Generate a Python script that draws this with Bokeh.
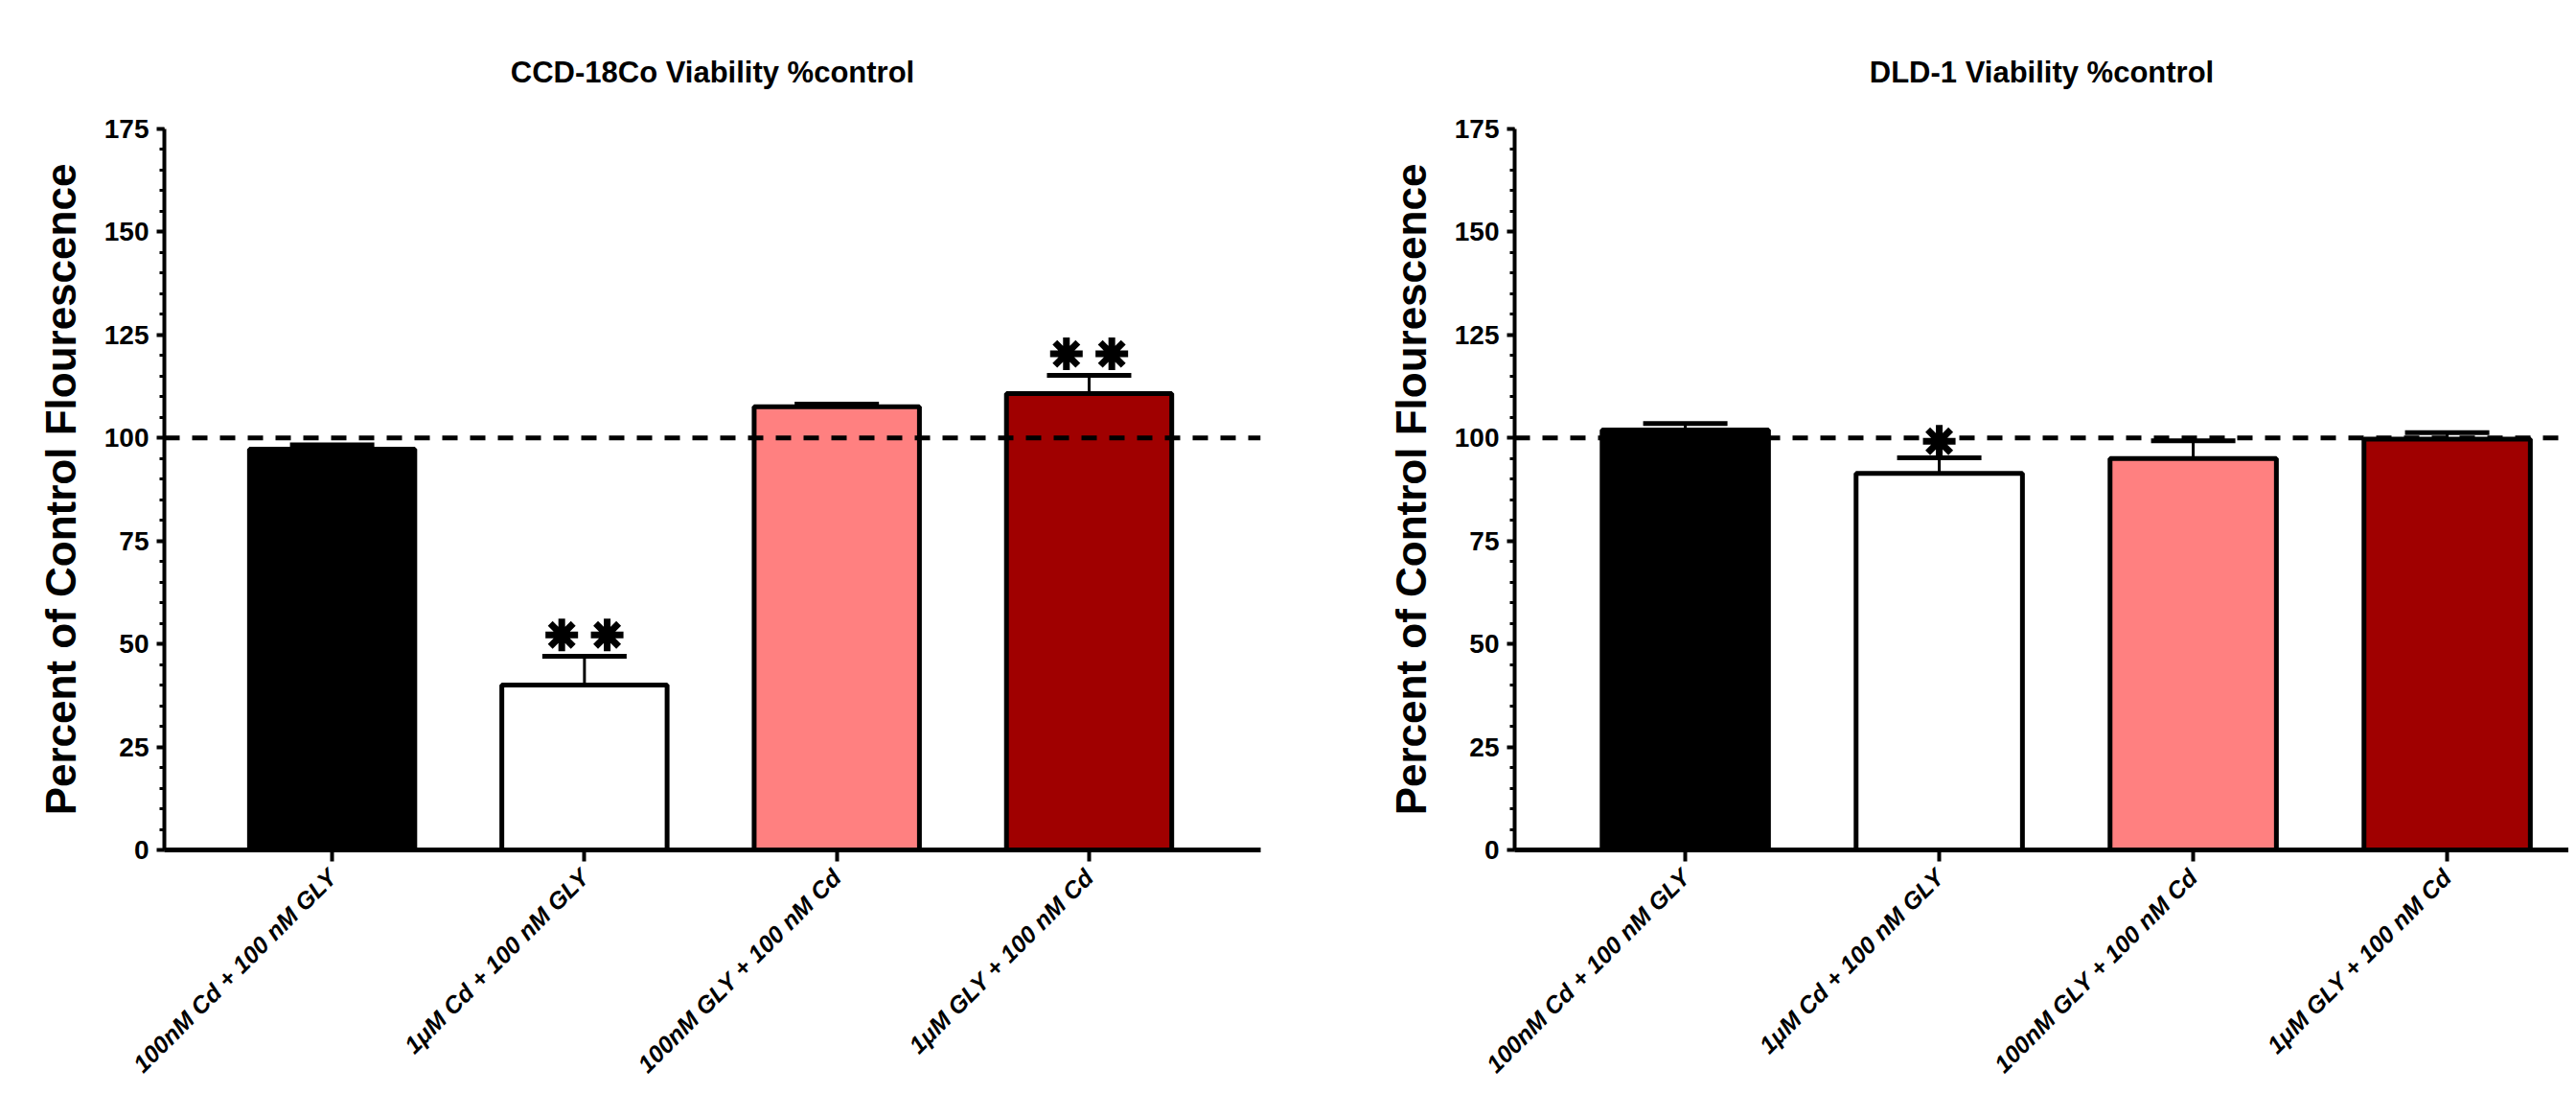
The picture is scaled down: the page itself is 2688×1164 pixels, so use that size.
import math
from bokeh.plotting import figure
from bokeh.models import (Range1d, SingleIntervalTicker, FixedTicker, Span, Whisker,
                          TeeHead, ColumnDataSource)
from bokeh.layouts import row
from bokeh.embed import file_html
from bokeh.resources import INLINE

# ---------------- data ----------------
categories = ["100nM Cd + 100 nM GLY", "1\u03bcM Cd + 100 nM GLY",
              "100nM GLY + 100 nM Cd", "1\u03bcM GLY + 100 nM Cd"]
bar_colors = ["#000000", "#FFFFFF", "#FF8080", "#A00000"]

ccd_title = "CCD-18Co Viability %control"
ccd_mean = [97.3, 40.0, 107.6, 110.8]
ccd_err = [1.0, 7.0, 0.6, 4.4]
ccd_stars = [0, 2, 0, 2]          # number of significance asterisks

dld_title = "DLD-1 Viability %control"
dld_mean = [101.9, 91.4, 95.0, 99.7]
dld_err = [1.6, 3.8, 4.3, 1.6]
dld_stars = [0, 1, 0, 0]

y_label = "Percent of Control Flourescence"
y_min, y_max, y_step = 0, 175, 25
control_level = 100

SANS = "Liberation Sans"


def make_panel(title, means, errs, stars, width, height, border_left, border_right,
               border_top, border_bottom, x_start, x_end, title_offset, star_lift):
    xs = list(range(1, len(categories) + 1))
    uppers = [m + e for m, e in zip(means, errs)]
    src = ColumnDataSource(dict(x=xs, top=means, upper=uppers, color=bar_colors))

    # asterisk marker positions (placed side by side above each error bar)
    sx, sy = [], []
    for x, u, n in zip(xs, uppers, stars):
        for k in range(n):
            sx.append(x + (k - (n - 1) / 2) * 0.18)
            sy.append(u + star_lift)
    star_src = ColumnDataSource(dict(x=sx, y=sy))

    p = figure(width=width, height=height, output_backend="svg", toolbar_location=None,
               x_range=Range1d(x_start, x_end), y_range=Range1d(y_min, y_max),
               min_border_left=border_left, min_border_right=border_right,
               min_border_top=border_top, min_border_bottom=border_bottom)
    p.outline_line_color = None
    p.xgrid.grid_line_color = None
    p.ygrid.grid_line_color = None
    p.background_fill_color = "white"

    # title
    p.title.text = title
    p.title.align = "center"
    p.title.text_font = SANS
    p.title.text_font_style = "bold"
    p.title.text_font_size = "31px"
    p.title.text_color = "black"
    p.title.standoff = 84
    p.title.offset = title_offset

    # bars
    p.vbar(x="x", top="top", bottom=0, width=0.655, source=src,
           fill_color="color", line_color="black", line_width=5)

    # error bars (upper only)
    wh = Whisker(base="x", upper="upper", lower="top", source=src, dimension="height",
                 line_color="black", line_width=3,
                 upper_head=TeeHead(size=88, line_width=5, line_color="black"),
                 lower_head=TeeHead(size=1, line_width=0, line_alpha=0))
    p.add_layout(wh)

    # control reference line
    p.add_layout(Span(location=control_level, dimension="width", line_color="black",
                      line_width=5, line_dash="16 13"))

    # significance asterisks
    if sx:
        p.scatter(x="x", y="y", source=star_src, marker="asterisk", size=34,
                  line_color="black", line_width=7)

    # x axis
    xa = p.xaxis[0]
    xa.ticker = FixedTicker(ticks=xs)
    xa.major_label_overrides = {x: c for x, c in zip(xs, categories)}
    xa.major_label_orientation = math.pi / 4
    xa.major_label_text_font = SANS
    xa.major_label_text_font_style = "bold italic"
    xa.major_label_text_font_size = "25px"
    xa.major_label_text_color = "black"
    xa.major_label_standoff = 12
    xa.axis_line_width = 5
    xa.axis_line_color = "black"
    xa.major_tick_out = 12
    xa.major_tick_in = 0
    xa.major_tick_line_width = 4
    xa.minor_tick_line_color = None

    # y axis
    ya = p.yaxis[0]
    ya.ticker = SingleIntervalTicker(interval=y_step, num_minor_ticks=5)
    ya.axis_label = y_label
    ya.axis_label_text_font = SANS
    ya.axis_label_text_font_style = "bold"
    ya.axis_label_text_font_size = "44px"
    ya.axis_label_text_color = "black"
    ya.axis_label_standoff = 18
    ya.major_label_text_font = SANS
    ya.major_label_text_font_style = "bold"
    ya.major_label_text_font_size = "28px"
    ya.major_label_text_color = "black"
    ya.major_label_standoff = 8
    ya.axis_line_width = 4
    ya.axis_line_color = "black"
    ya.major_tick_out = 8
    ya.major_tick_in = 0
    ya.major_tick_line_width = 4
    ya.minor_tick_out = 5
    ya.minor_tick_in = 0
    ya.minor_tick_line_width = 3
    return p


left = make_panel(ccd_title, ccd_mean, ccd_err, ccd_stars, width=1400, height=1146,
                  border_left=171, border_right=85, border_top=131, border_bottom=260,
                  x_start=0.335, x_end=4.68, title_offset=0, star_lift=5.2)
right = make_panel(dld_title, dld_mean, dld_err, dld_stars, width=1280, height=1146,
                   border_left=180, border_right=0, border_top=134, border_bottom=255,
                   x_start=0.328, x_end=4.479, title_offset=50, star_lift=4.0)

layout = row(left, right)
open("out.html", "w").write(file_html(layout, INLINE))
